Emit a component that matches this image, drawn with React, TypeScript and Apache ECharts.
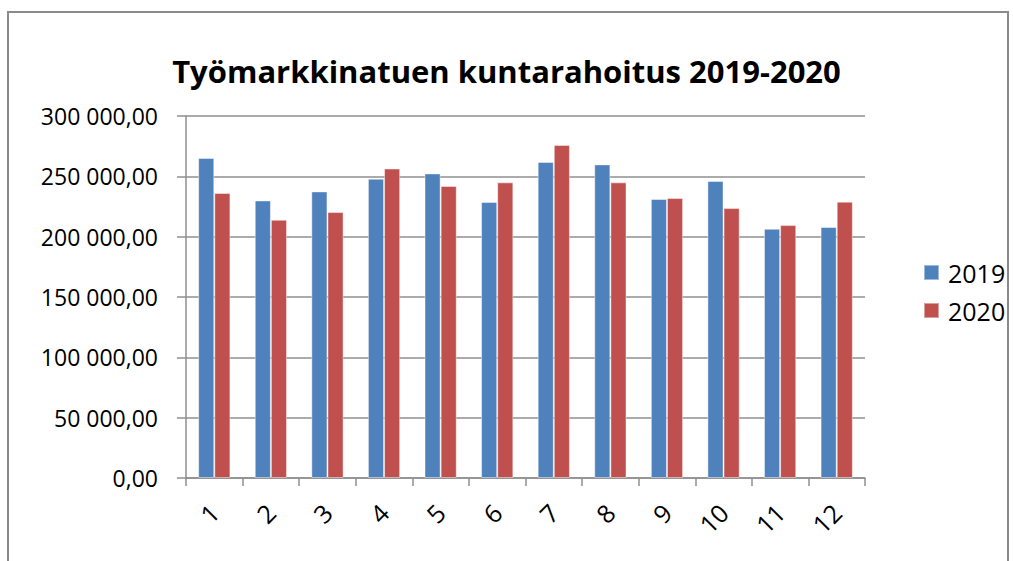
import React, { useEffect, useRef } from "react";
import * as echarts from "echarts";

const categories = ["1", "2", "3", "4", "5", "6", "7", "8", "9", "10", "11", "12"];
const values2019 = [265200, 230000, 237500, 248000, 252400, 228700, 261900, 259900, 231200, 246100, 206500, 208000];
const values2020 = [236200, 214000, 220400, 256500, 242000, 245000, 276000, 245000, 232000, 223700, 209600, 229000];
const yTicks = { min: 0, max: 300000, interval: 50000 };
const titleText = "Työmarkkinatuen kuntarahoitus 2019-2020";

function fmt(v: number): string {
  const s = Math.round(v).toString().replace(/\B(?=(\d{3})+(?!\d))/g, " ");
  return s + ",00";
}

export default function App() {
  const ref = useRef<HTMLDivElement>(null);
  useEffect(() => {
    const chart = echarts.init(ref.current!, undefined, { renderer: "svg" });
    const font = "'Open Sans', sans-serif";
    chart.setOption({
      animation: false,
      backgroundColor: "#ffffff",
      textStyle: { fontFamily: font },
      title: {
        text: titleText,
        left: "center",
        top: 50,
        textStyle: { fontFamily: font, fontWeight: "bold", fontSize: 31, color: "#000" },
      },
      graphic: [
        {
          type: "rect",
          shape: { x: 8, y: 12, width: 1000, height: 570 },
          style: { fill: "none", stroke: "#8a8a8a", lineWidth: 2 },
          z: -1,
        },
      ],
      legend: {
        orient: "vertical",
        left: 918,
        top: 255,
        itemWidth: 15,
        itemHeight: 15,
        itemGap: 13,
        icon: "rect",
        textStyle: { fontFamily: font, fontSize: 25, color: "#000", padding: [0, 0, 0, 4] },
        data: ["2019", "2020"],
      },
      grid: { left: 186, top: 116, width: 679, height: 362, containLabel: false },
      xAxis: {
        type: "category",
        data: categories,
        axisLine: { show: true, lineStyle: { color: "#8f8f8f", width: 1.5 } },
        axisTick: { show: true, length: 8, alignWithLabel: false, lineStyle: { color: "#8f8f8f", width: 1.5 } },
        axisLabel: { rotate: 45, margin: 30, fontSize: 25, color: "#000", fontFamily: font },
      },
      yAxis: {
        type: "value",
        min: yTicks.min,
        max: yTicks.max,
        interval: yTicks.interval,
        axisLine: { show: true, lineStyle: { color: "#8f8f8f", width: 1.5 } },
        axisTick: { show: true, length: 9, lineStyle: { color: "#8f8f8f", width: 1.5 } },
        splitLine: { show: true, lineStyle: { color: "#8f8f8f", width: 1.5 } },
        axisLabel: { formatter: fmt, margin: 28, fontSize: 23, color: "#000", fontFamily: font },
      },
      series: [
        {
          name: "2019",
          type: "bar",
          data: values2019,
          barGap: "0%",
          barCategoryGap: "43%",
          itemStyle: { color: "#4F81BD", borderColor: "rgba(255,255,255,0.45)", borderWidth: 1 },
        },
        {
          name: "2020",
          type: "bar",
          data: values2020,
          itemStyle: { color: "#C0504D", borderColor: "rgba(255,255,255,0.45)", borderWidth: 1 },
        },
      ],
    });
    return () => chart.dispose();
  }, []);
  return (
    <div
      ref={ref}
      style={{ position: "fixed", left: 0, top: 0, width: 1013, height: 561 }}
    />
  );
}
